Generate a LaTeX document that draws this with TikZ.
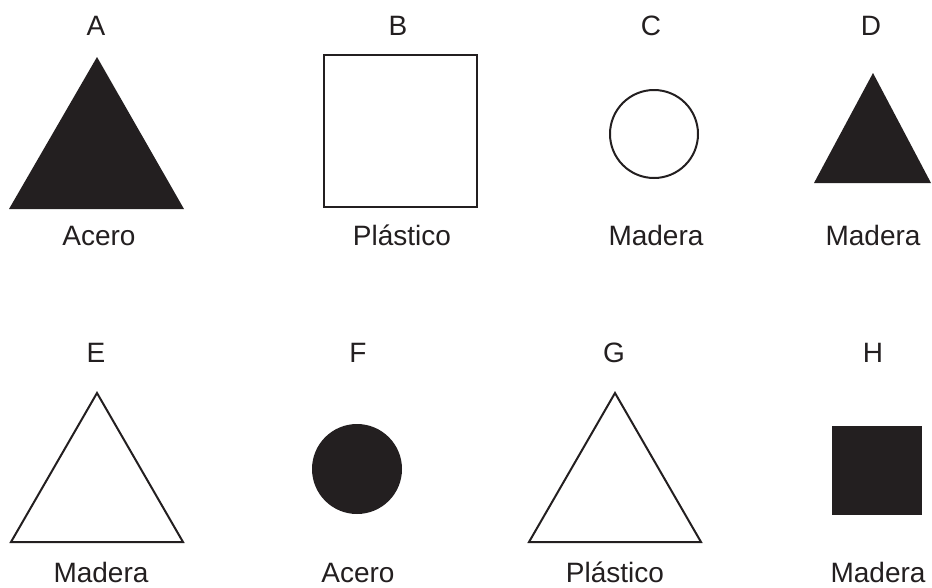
\documentclass[tikz,border=0pt]{standalone}
\usepackage{fontspec}
\setmainfont{Liberation Sans}
\usepackage{xcolor}
\definecolor{ink}{HTML}{231F20}

\begin{document}
\begin{tikzpicture}[
    x=1pt, y=-1pt,
    lbl/.style={anchor=base, inner sep=0pt, text=ink, font=\fontsize{28}{32}\selectfont},
    hollow/.style={draw=ink, line width=2pt, line join=miter},
    solid/.style={fill=ink}
]
\useasboundingbox (0,0) rectangle (932,587);

% Top row letters
\node[lbl] (la) at (96,35) {A};
\node[lbl] (lb) at (398,35) {B};
\node[lbl] (lc) at (651,35) {C};
\node[lbl] (ld) at (871,35) {D};

% Top row shapes
\fill[solid] (97,57) -- (184,209) -- (9,209) -- cycle;
\draw[hollow] (324,55) rectangle (477,207);
\draw[hollow] (654,134) circle (44);
\fill[solid] (873,73) -- (931,183) -- (814,183) -- cycle;

% Top row materials
\node[lbl] (ma) at (99,245) {Acero};
\node[lbl] (mb) at (402,245) {Plástico};
\node[lbl] (mc) at (656,245) {Madera};
\node[lbl] (md) at (873,245) {Madera};

% Bottom row letters
\node[lbl] (le) at (96,362) {E};
\node[lbl] (lf) at (358,362) {F};
\node[lbl] (lg) at (614,362) {G};
\node[lbl] (lh) at (873,362) {H};

% Bottom row shapes
\draw[hollow] (97,393) -- (183,542) -- (11,542) -- cycle;
\fill[solid] (357,469) circle (45);
\draw[hollow] (615,393) -- (701,542) -- (529,542) -- cycle;
\fill[solid] (832,426) rectangle (922,515);

% Bottom row materials
\node[lbl] (me) at (101,582) {Madera};
\node[lbl] (mf) at (358,582) {Acero};
\node[lbl] (mg) at (615,582) {Plástico};
\node[lbl] (mh) at (878,582) {Madera};

\end{tikzpicture}
\end{document}
